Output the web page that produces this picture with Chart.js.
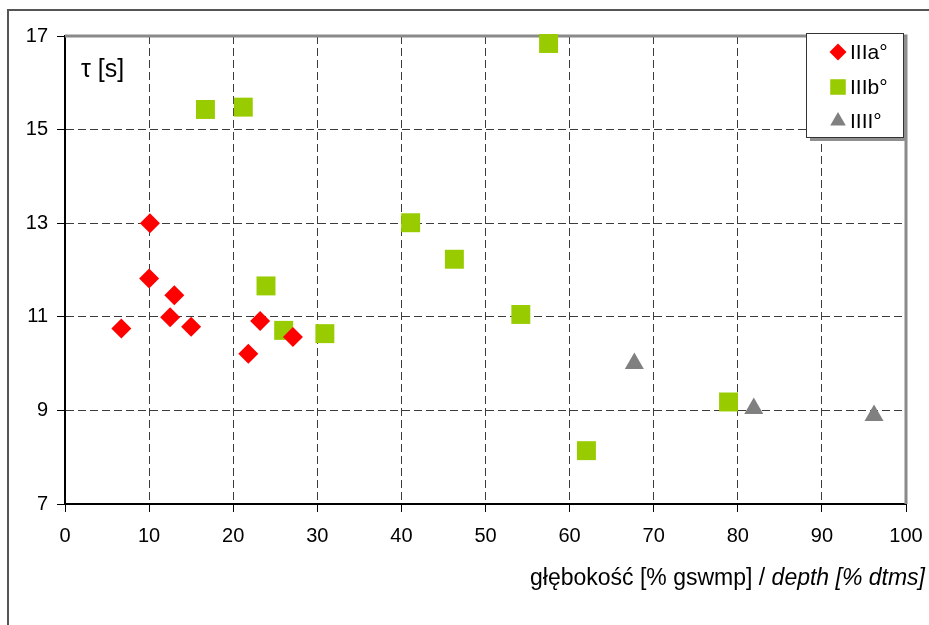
<!DOCTYPE html>
<html>
<head>
<meta charset="utf-8">
<script src="https://cdn.jsdelivr.net/npm/chart.js@4/dist/chart.umd.min.js"></script>
<style>
  html, body { margin: 0; padding: 0; background: #fff; }
  canvas { display: block; }
</style>
</head>
<body>
<canvas id="c" width="929" height="625"></canvas>
<script>
// Series names
const seriesNames = ['IIIa°', 'IIIb°', 'IIII°'];

// Depth [% gswmp] and time constant tau [s] for each group
const depthIIIa = [6.7, 10.1, 10.0, 13.0, 12.5, 15.0, 21.8, 23.2, 27.1];
const tauIIIa   = [10.75, 13.0, 11.82, 11.46, 10.99, 10.79, 10.21, 10.91, 10.57];

const depthIIIb = [16.7, 21.2, 57.5, 41.1, 46.3, 54.2, 23.9, 26.0, 30.9, 62.0, 78.9];
const tauIIIb   = [15.43, 15.48, 16.84, 13.01, 12.23, 11.05, 11.66, 10.71, 10.64, 8.14, 9.18];

const depthIIII = [67.7, 81.9, 96.2];
const tauIIII   = [10.0, 9.04, 8.89];

// Axis ranges and tick steps
const xRange = [0, 100];
const xStep = 10;
const yRange = [7, 17];
const yStep = 2;

const FONT = '"Liberation Sans", Arial, Helvetica, sans-serif';

function toPoints(xs, ys) {
  return xs.map((x, i) => ({ x: x, y: ys[i] }));
}

// Outer frame and gray top/right border of the plot area
const framePlugin = {
  id: 'framePlugin',
  beforeDraw(chart) {
    const ctx = chart.ctx;
    ctx.save();
    ctx.fillStyle = '#fff';
    ctx.fillRect(0, 0, chart.width, chart.height);
    ctx.strokeStyle = '#555';
    ctx.lineWidth = 2;
    ctx.beginPath();
    ctx.moveTo(8, chart.height + 2);
    ctx.lineTo(8, 10);
    ctx.lineTo(chart.width + 2, 10);
    ctx.stroke();
    ctx.restore();
  },
  beforeDatasetsDraw(chart) {
    const { ctx, chartArea: a } = chart;
    ctx.save();
    ctx.strokeStyle = '#8a8a8a';
    ctx.lineWidth = 3;
    ctx.beginPath();
    ctx.moveTo(a.left, a.top);
    ctx.lineTo(a.right, a.top);
    ctx.lineTo(a.right, a.bottom);
    ctx.stroke();
    ctx.restore();
  }
};

// Axis titles: tau label inside the plot, depth label under the x axis
const titlePlugin = {
  id: 'titlePlugin',
  afterDraw(chart) {
    const ctx = chart.ctx;
    const a = chart.chartArea;
    ctx.save();
    ctx.fillStyle = '#000';
    ctx.textBaseline = 'middle';
    ctx.textAlign = 'left';
    ctx.font = '25px ' + FONT;
    ctx.fillText('τ [s]', a.left + 16, a.top + 34);

    const partA = 'głębokość [% gswmp] / ';
    const partB = 'depth [% dtms]';
    const size = 23;
    ctx.font = 'italic ' + size + 'px ' + FONT;
    const wB = ctx.measureText(partB).width;
    ctx.font = size + 'px ' + FONT;
    const wA = ctx.measureText(partA).width;
    const right = 925;
    const y = 579;
    ctx.fillText(partA, right - wB - wA, y);
    ctx.font = 'italic ' + size + 'px ' + FONT;
    ctx.fillText(partB, right - wB, y);
    ctx.restore();
  }
};

// Legend box with drop shadow in the top-right corner
const legendPlugin = {
  id: 'legendPlugin',
  afterDraw(chart) {
    const ctx = chart.ctx;
    const bx = 806, by = 33, bw = 97, bh = 104;
    ctx.save();
    ctx.fillStyle = '#8f8f8f';
    ctx.fillRect(bx + 4, by + 4, bw, bh);
    ctx.fillStyle = '#fff';
    ctx.fillRect(bx, by, bw, bh);
    ctx.strokeStyle = '#333';
    ctx.lineWidth = 1;
    ctx.strokeRect(bx + 0.5, by + 0.5, bw, bh);

    const rowY = [52, 87, 121];
    const radii = [8.5, 11, 9];
    chart.data.datasets.forEach((ds, i) => {
      ctx.fillStyle = ds.backgroundColor;
      Chart.helpers.drawPoint(ctx, {
        pointStyle: ds.pointStyle,
        radius: radii[i],
        rotation: 0,
        borderWidth: 0
      }, 838, rowY[i]);
      ctx.fillStyle = '#000';
      ctx.font = '21px ' + FONT;
      ctx.textAlign = 'left';
      ctx.textBaseline = 'middle';
      ctx.fillText(ds.label, 850, rowY[i] + 1);
    });
    ctx.restore();
  }
};

const edgeHidden = (lo, hi) => (c) =>
  (c.tick && (c.tick.value === lo || c.tick.value === hi)) ? 'rgba(0,0,0,0)' : '#3c3c3c';

new Chart(document.getElementById('c'), {
  type: 'scatter',
  data: {
    datasets: [
      {
        label: seriesNames[0],
        data: toPoints(depthIIIa, tauIIIa),
        pointStyle: 'rectRot',
        pointRadius: 10,
        backgroundColor: '#ff0000',
        borderWidth: 0,
        clip: false
      },
      {
        label: seriesNames[1],
        data: toPoints(depthIIIb, tauIIIb),
        pointStyle: 'rect',
        pointRadius: 13.4,
        backgroundColor: '#99cc00',
        borderWidth: 0,
        clip: false
      },
      {
        label: seriesNames[2],
        data: toPoints(depthIIII, tauIIII),
        pointStyle: 'triangle',
        pointRadius: 11,
        backgroundColor: '#808080',
        borderWidth: 0,
        clip: false
      }
    ]
  },
  options: {
    responsive: false,
    animation: false,
    events: [],
    layout: { padding: { left: 0, right: 23, top: 36, bottom: 0 } },
    plugins: {
      legend: { display: false },
      tooltip: { enabled: false },
      title: { display: false }
    },
    scales: {
      x: {
        type: 'linear',
        position: 'bottom',
        min: xRange[0],
        max: xRange[1],
        afterFit(scale) {
          scale.height = 121;
          scale.paddingLeft = 0;
          scale.paddingRight = 0;
        },
        ticks: {
          stepSize: xStep,
          color: '#000',
          font: { family: FONT, size: 20 },
          padding: 12,
          maxRotation: 0
        },
        grid: {
          color: edgeHidden(xRange[0], xRange[1]),
          lineWidth: 1,
          tickColor: '#000',
          tickWidth: 1,
          tickLength: 8
        },
        border: { display: true, color: '#000', width: 2, dash: [8, 4] }
      },
      y: {
        type: 'linear',
        min: yRange[0],
        max: yRange[1],
        afterFit(scale) {
          scale.width = 65;
          scale.paddingTop = 0;
          scale.paddingBottom = 0;
        },
        ticks: {
          stepSize: yStep,
          color: '#000',
          font: { family: FONT, size: 20 },
          padding: 9
        },
        grid: {
          color: edgeHidden(yRange[0], yRange[1]),
          lineWidth: 1,
          tickColor: '#000',
          tickWidth: 1,
          tickLength: 8
        },
        border: { display: true, color: '#000', width: 2, dash: [8, 4] }
      }
    }
  },
  plugins: [framePlugin, titlePlugin, legendPlugin]
});
</script>
</body>
</html>
